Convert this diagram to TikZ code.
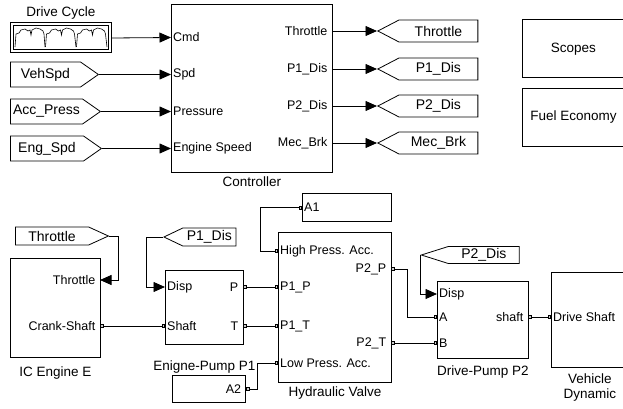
\documentclass[tikz,border=0pt]{standalone}
\usepackage{fontspec}
\setmainfont{Liberation Sans}
\usetikzlibrary{shapes.symbols,arrows.meta,positioning,calc}
\tikzset{portend/.tip={Square[length=3.5pt,width=3.5pt,fill=gray!40,line width=0.6pt]}}

\begin{document}
\begin{tikzpicture}[
  x=1pt,y=-1pt,
  blk/.style={rectangle,draw,line width=0.8pt,inner sep=0pt,anchor=north west,
              font=\fontsize{13.5}{15}\selectfont},
  blkname/.style={inner sep=0pt,align=center,font=\fontsize{13.5}{15}\selectfont},
  inport/.style={anchor=west,inner xsep=2pt,inner ysep=1pt,font=\fontsize{12.5}{14}\selectfont},
  outport/.style={anchor=east,inner xsep=4.5pt,inner ysep=1pt,font=\fontsize{12.5}{14}\selectfont},
  tag/.style={signal,draw,line width=0.8pt,inner sep=0pt,anchor=west,
              font=\fontsize{14}{16}\selectfont},
  sig/.style={-{Triangle[length=11.5pt,width=10pt]},line width=0.8pt},
  pwire/.style={portend-portend,line width=0.8pt},
  node distance=4pt
]
\useasboundingbox (0,0) rectangle (623,409);

% upper row: drive cycle, tags and controller
\node[blk,minimum width=161pt,minimum height=168pt] (ctrl) at (171,4) {};
\node[blkname,below=4pt of ctrl] {Controller};
\node[inport] (c-cmd) at (171,37.5) {Cmd};
\node[inport] (c-spd) at (171,74.5) {Spd};
\node[inport] (c-press) at (171,111.5) {Pressure};
\node[inport] (c-eng) at (171,148.5) {Engine Speed};
\node[outport] (c-thr) at (332,31) {Throttle};
\node[outport] (c-p1) at (332,69) {P1\_Dis};
\node[outport] (c-p2) at (332,106) {P2\_Dis};
\node[outport] (c-brk) at (332,143) {Mec\_Brk};

\node[blk,minimum width=101pt,minimum height=30pt,line width=1pt] (drvcyc) at (10,22.5) {};
\node[blk,minimum width=95pt,minimum height=24pt,line width=0.6pt] (drvcyc-in) at (13,25.5) {};
\node[blkname,above=3pt of drvcyc] {Drive Cycle};
\draw[line width=0.6pt,shift={(15,0)}] (0,47) -- (1,34) -- (4,33) -- (6,30) -- (10,29) -- (13,31) -- (15,30)
  -- (16,35) -- (17,30) -- (21,28) -- (25,29) -- (28,31) -- (29,34) -- (30,47);
\draw[line width=0.6pt,shift={(45.5,0)}] (0,47) -- (1,34) -- (4,33) -- (6,30) -- (10,29) -- (13,31) -- (15,30)
  -- (16,35) -- (17,30) -- (21,28) -- (25,29) -- (28,31) -- (29,34) -- (30.5,47);
\draw[line width=0.6pt,shift={(76.5,0)}] (0,47) -- (1,34) -- (4,33) -- (6,30) -- (10,29) -- (13,31) -- (15,30)
  -- (16,35) -- (17,30) -- (21,28) -- (25,29) -- (28,31) -- (29,34) -- (30.5,47);

\node[tag,signal to=east,signal pointer angle=70,minimum width=88pt,minimum height=25pt] (vehspd) at (10,74.5) {VehSpd};
\node[tag,signal to=east,signal pointer angle=70,minimum width=90pt,minimum height=25pt] (accpress) at (10,111.5) {Acc\_Press};
\node[tag,signal to=east,signal pointer angle=70,minimum width=91pt,minimum height=25pt] (engspd) at (10,148.5) {Eng\_Spd};

\node[tag,signal to=west,signal pointer angle=55,minimum width=100pt,minimum height=22pt] (g-thr) at (377,31) {Throttle};
\node[tag,signal to=west,signal pointer angle=55,minimum width=100pt,minimum height=22pt] (g-p1) at (377,69) {P1\_Dis};
\node[tag,signal to=west,signal pointer angle=55,minimum width=100pt,minimum height=22pt] (g-p2) at (377,106) {P2\_Dis};
\node[tag,signal to=west,signal pointer angle=55,minimum width=100pt,minimum height=22pt] (g-brk) at (377,143) {Mec\_Brk};

\draw[sig] (drvcyc.east) -- (c-cmd.west);
\draw[sig] (vehspd.east) -- (c-spd.west);
\draw[sig] (accpress.east) -- (c-press.west);
\draw[sig] (engspd.east) -- (c-eng.west);
\draw[sig] (c-thr.east) -- (g-thr.west);
\draw[sig] (c-p1.east) -- (g-p1.west);
\draw[sig] (c-p2.east) -- (g-p2.west);
\draw[sig] (c-brk.east) -- (g-brk.west);

\node[blk,minimum width=102pt,minimum height=58pt] (scopes) at (522,19.5) {Scopes};
\node[blk,minimum width=102pt,minimum height=58pt] (fuel) at (522,88) {Fuel Economy};

% lower row: engine, pumps, valve and vehicle
\node[blk,minimum width=90pt,minimum height=99pt] (ice) at (10,258) {};
\node[blkname,below=9pt of ice] {IC Engine E};
\node[outport] (ice-thr) at (100,280) {Throttle};
\node[outport] (ice-cs) at (100,326) {Crank-Shaft};

\node[blk,minimum width=78pt,minimum height=74pt] (pump1) at (165,270) {};
\node[blkname,below=16pt of pump1] {Enigne-Pump P1};
\node[inport] (p1-disp) at (165,287) {Disp};
\node[inport] (p1-shaft) at (165,326) {Shaft};
\node[outport] (p1-p) at (243,287) {P};
\node[outport] (p1-t) at (243,326) {T};

\node[blk,minimum width=113pt,minimum height=150pt] (valve) at (278,232) {};
\node[blkname,below=4pt of valve] {Hydraulic Valve};
\node[inport] (v-hpa) at (278,251) {High Press. Acc.};
\node[inport] (v-p1p) at (278,287) {P1\_P};
\node[inport] (v-p1t) at (278,326) {P1\_T};
\node[inport] (v-lpa) at (278,363) {Low Press. Acc.};
\node[outport] (v-p2p) at (391,269) {P2\_P};
\node[outport] (v-p2t) at (391,343) {P2\_T};

\node[blk,minimum width=89pt,minimum height=28pt] (a1) at (302,193) {};
\node[inport] (a1-p) at (a1.west) {A1};
\node[blk,minimum width=73pt,minimum height=27pt] (a2) at (172,375) {};
\node[outport] (a2-p) at (a2.east) {A2};

\node[blk,minimum width=91pt,minimum height=77pt] (pump2) at (437,281) {};
\node[blkname,below=7pt of pump2] {Drive-Pump P2};
\node[inport] (p2-disp) at (437,294) {Disp};
\node[inport] (p2-a) at (437,317) {A};
\node[inport] (p2-b) at (437,343) {B};
\node[outport] (p2-shaft) at (528,317) {shaft};

\node[blk,minimum width=77pt,minimum height=95pt] (veh) at (551,272) {};
\node[blkname,below=6pt of veh] {Vehicle\\Dynamic};
\node[inport] (veh-ds) at (551,317) {Drive Shaft};

\node[tag,signal to=east,signal pointer angle=49,minimum width=93pt,minimum height=18pt] (f-thr) at (15,236) {Throttle};
\node[tag,signal to=west,signal pointer angle=51,minimum width=72pt,minimum height=18pt] (f-p1) at (163,237) {P1\_Dis};
\node[tag,signal to=west,signal pointer angle=35,minimum width=98pt,minimum height=17pt] (f-p2) at (420,255) {P2\_Dis};

\draw[sig] (f-thr.east) -- ++(9,0) |- (ice-thr.east);
\draw[sig] (f-p1.west) -- ++(-17,0) |- (p1-disp.west);
\draw[sig] (f-p2.west) |- (p2-disp.west);

\draw[pwire] (ice-cs.east) -- (p1-shaft.west);
\draw[pwire] (p1-p.east) -- (v-p1p.west);
\draw[pwire] (p1-t.east) -- (v-p1t.west);
\draw[pwire] (a1-p.west) -- ++(-42,0) |- (v-hpa.west);
\draw[pwire] (a2-p.east) -- ++(12,0) |- (v-lpa.west);
\draw[pwire] (v-p2p.east) -- ++(16,0) |- (p2-a.west);
\draw[pwire] (v-p2t.east) -- (p2-b.west);
\draw[pwire] (p2-shaft.east) -- (veh-ds.west);

\end{tikzpicture}
\end{document}
